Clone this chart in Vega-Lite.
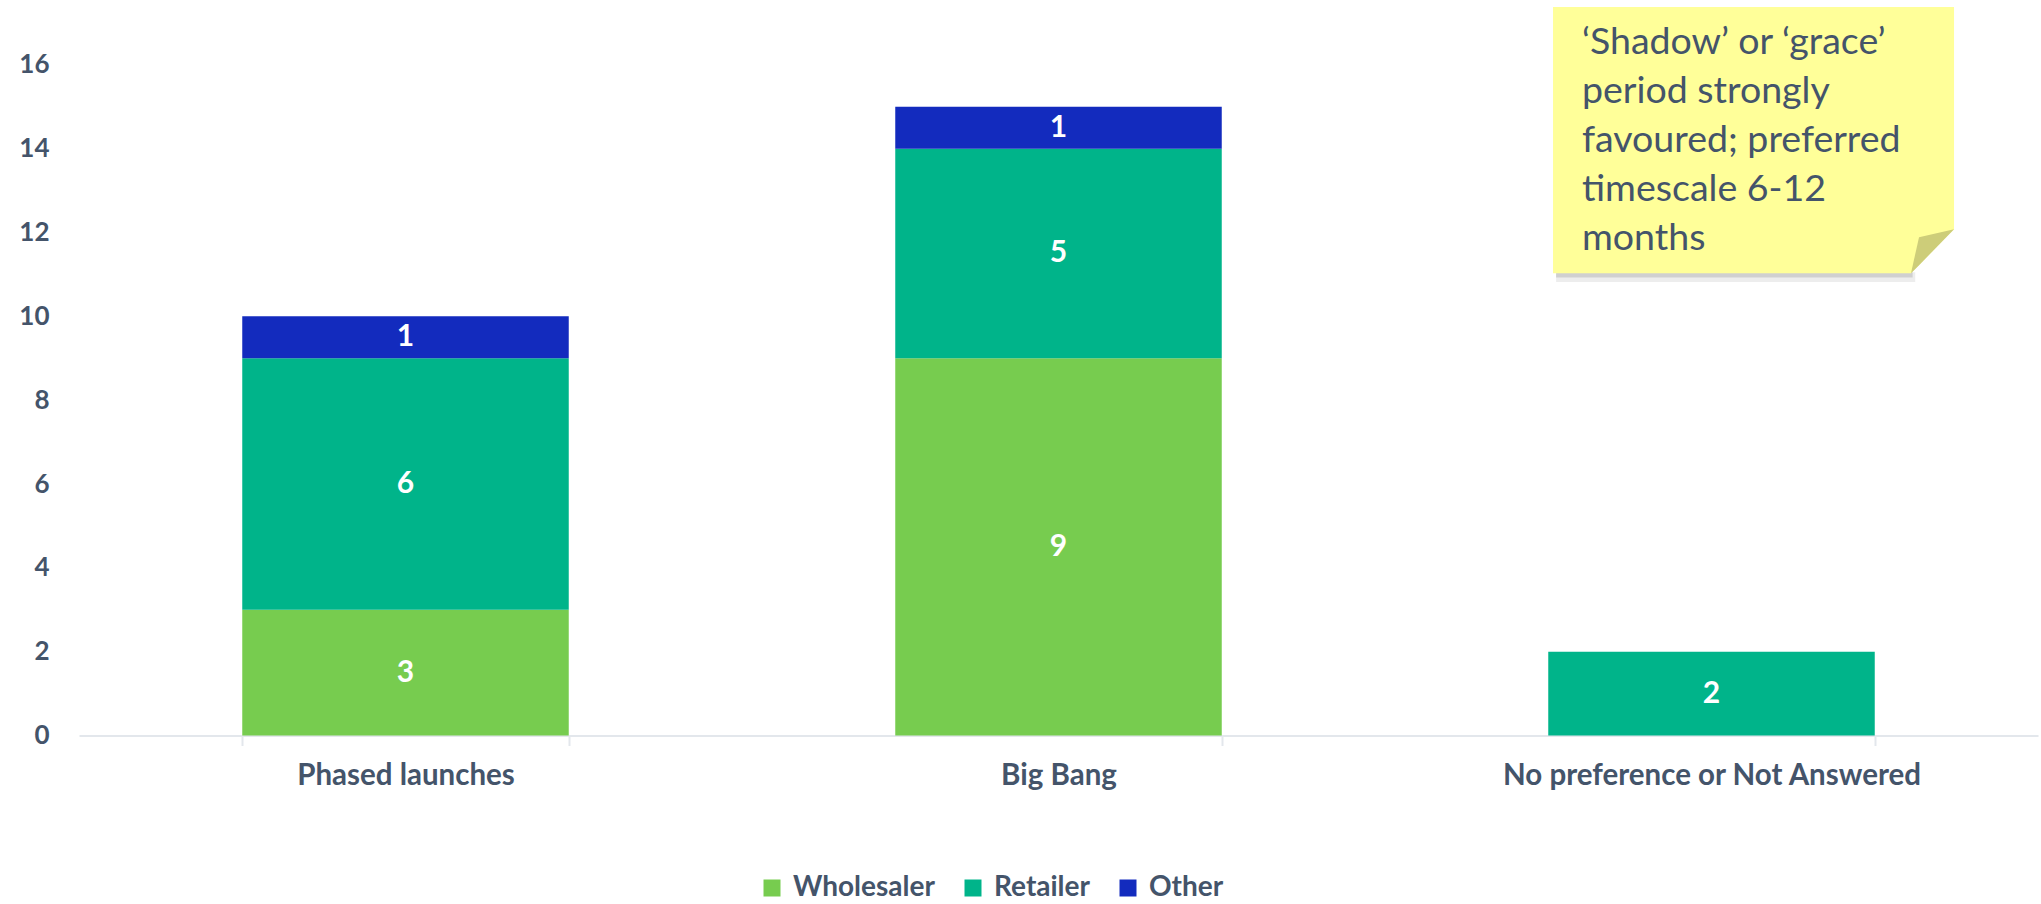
{
  "$schema": "https://vega.github.io/schema/vega-lite/v6.json",
  "autosize": {"type": "none"},
  "padding": {"left": 79, "top": 2, "right": 3, "bottom": 168},
  "width": 1959,
  "height": 733.5,
  "background": "white",
  "config": {"view": {"stroke": null}},
  "datasets": {
    "bars": [
      {"cat": "Phased launches", "type": "Wholesaler", "value": 3},
      {"cat": "Phased launches", "type": "Retailer", "value": 6},
      {"cat": "Phased launches", "type": "Other", "value": 1},
      {"cat": "Big Bang", "type": "Wholesaler", "value": 9},
      {"cat": "Big Bang", "type": "Retailer", "value": 5},
      {"cat": "Big Bang", "type": "Other", "value": 1},
      {"cat": "No preference or Not Answered", "type": "Retailer", "value": 2}
    ],
    "noteShadow": [
      {"nx": 2.262, "nx2": 2.812, "ny": 11.05, "ny2": 10.82}
    ],
    "noteShadow2": [
      {"nx": 2.262, "nx2": 2.808, "ny": 11.05, "ny2": 10.93}
    ],
    "noteBody": [
      {"nx": 2.2573, "ny": 17.38, "ny2": 11.03},
      {"nx": 2.8055, "ny": 17.38, "ny2": 11.03},
      {"nx": 2.8714, "ny": 17.38, "ny2": 12.08}
    ],
    "noteFold": [
      {"nx": 2.8055, "ny": 11.03, "ny2": 11.03},
      {"nx": 2.8178, "ny": 11.89, "ny2": 11.22},
      {"nx": 2.8714, "ny": 12.08, "ny2": 12.08}
    ],
    "noteText": [
      {"nx": 2.3017, "ny": 16.26, "label": ["‘Shadow’ or ‘grace’", "period strongly", "favoured; preferred", "timescale 6-12", "months"]}
    ]
  },
  "resolve": {"scale": {"x": "independent", "y": "independent"}},
  "layer": [
    {
      "data": {"name": "bars"},
      "encoding": {
        "x": {
          "field": "cat",
          "type": "nominal",
          "sort": null,
          "scale": {"domain": ["Phased launches", "Big Bang", "No preference or Not Answered"], "paddingInner": 0.5, "paddingOuter": 0.25},
          "axis": {
            "title": null,
            "labelAngle": 0,
            "labelFont": "Lato",
            "labelFontWeight": "bold",
            "labelFontSize": 29.5,
            "labelColor": "#44546A",
            "labelLimit": 1000,
            "labelPadding": 16,
            "domainColor": "#E3E7EC",
            "domainWidth": 2,
            "ticks": true,
            "tickBand": "extent",
            "tickColor": "#E3E7EC",
            "tickWidth": 2,
            "tickSize": 10,
            "grid": false
          }
        },
        "y": {
          "field": "value",
          "type": "quantitative",
          "aggregate": "sum",
          "stack": "zero",
          "scale": {"domain": [0, 17.5], "nice": false},
          "axis": {
            "title": null,
            "values": [0, 2, 4, 6, 8, 10, 12, 14, 16],
            "domain": false,
            "ticks": false,
            "grid": false,
            "labelFont": "Lato",
            "labelFontWeight": "bold",
            "labelFontSize": 26,
            "labelColor": "#44546A",
            "labelPadding": 30
          }
        },
        "order": {"field": "type", "sort": "descending"}
      },
      "layer": [
        {
          "mark": {"type": "bar"},
          "encoding": {
            "color": {
              "field": "type",
              "type": "nominal",
              "scale": {"domain": ["Wholesaler", "Retailer", "Other"], "range": ["#77CC4F", "#00B48A", "#132BBE"]},
              "legend": {
                "title": null,
                "orient": "none",
                "direction": "horizontal",
                "legendX": 679,
                "legendY": 872,
                "padding": 0,
                "symbolType": "square",
                "symbolSize": 289,
                "symbolStrokeWidth": 0,
                "symbolOpacity": 1,
                "labelFont": "Lato",
                "labelFontWeight": "bold",
                "labelFontSize": 28,
                "labelColor": "#44546A",
                "labelOffset": 7,
                "columnPadding": 24
              }
            }
          }
        },
        {
          "mark": {"type": "text", "color": "white", "font": "Lato", "fontWeight": "bold", "fontSize": 30, "baseline": "middle", "align": "center"},
          "encoding": {
            "y": {"field": "value", "type": "quantitative", "aggregate": "sum", "stack": "zero", "bandPosition": 0.5},
            "detail": {"field": "type"},
            "text": {"field": "value", "type": "quantitative", "aggregate": "sum"}
          }
        }
      ]
    },
    {
      "layer": [
        {
          "data": {"name": "noteShadow"},
          "mark": {"type": "rect", "color": "#000000", "opacity": 0.07},
          "encoding": {
            "x": {"field": "nx", "type": "quantitative", "scale": {"domain": [0, 3], "nice": false, "zero": false}, "axis": null},
            "x2": {"field": "nx2"},
            "y": {"field": "ny", "type": "quantitative", "scale": {"domain": [0, 17.5], "nice": false}, "axis": null},
            "y2": {"field": "ny2"}
          }
        },
        {
          "data": {"name": "noteShadow2"},
          "mark": {"type": "rect", "color": "#000000", "opacity": 0.12},
          "encoding": {
            "x": {"field": "nx", "type": "quantitative", "scale": {"domain": [0, 3], "nice": false, "zero": false}, "axis": null},
            "x2": {"field": "nx2"},
            "y": {"field": "ny", "type": "quantitative", "scale": {"domain": [0, 17.5], "nice": false}, "axis": null},
            "y2": {"field": "ny2"}
          }
        },
        {
          "data": {"name": "noteBody"},
          "mark": {"type": "area", "color": "#FFFF99", "opacity": 1},
          "encoding": {
            "x": {"field": "nx", "type": "quantitative", "scale": {"domain": [0, 3], "nice": false, "zero": false}, "axis": null},
            "y": {"field": "ny", "type": "quantitative", "stack": null, "scale": {"domain": [0, 17.5], "nice": false}, "axis": null},
            "y2": {"field": "ny2"}
          }
        },
        {
          "data": {"name": "noteFold"},
          "mark": {"type": "area", "color": "#CDCD79", "opacity": 1},
          "encoding": {
            "x": {"field": "nx", "type": "quantitative", "scale": {"domain": [0, 3], "nice": false, "zero": false}, "axis": null},
            "y": {"field": "ny", "type": "quantitative", "stack": null, "scale": {"domain": [0, 17.5], "nice": false}, "axis": null},
            "y2": {"field": "ny2"}
          }
        },
        {
          "data": {"name": "noteText"},
          "mark": {"type": "text", "font": "Lato", "fontSize": 37.5, "color": "#44546A", "align": "left", "baseline": "alphabetic", "lineHeight": 49},
          "encoding": {
            "x": {"field": "nx", "type": "quantitative", "scale": {"domain": [0, 3], "nice": false, "zero": false}, "axis": null},
            "y": {"field": "ny", "type": "quantitative", "scale": {"domain": [0, 17.5], "nice": false}, "axis": null},
            "text": {"field": "label"}
          }
        }
      ]
    }
  ]
}
